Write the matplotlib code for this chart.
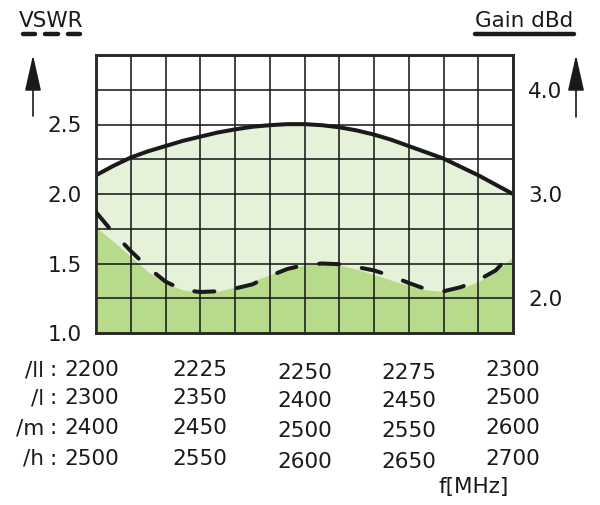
#!/usr/bin/env python3
"""VSWR / gain chart for a panel antenna, redrawn with matplotlib."""

import matplotlib
matplotlib.use("Agg")
import matplotlib.pyplot as plt
from matplotlib.lines import Line2D
import numpy as np

# grid columns (12 columns across the band), sampled every half column
cols = np.arange(0, 12.01, 0.5)

# gain in dBd (solid line, right axis)
gain = [3.18, 3.27, 3.35, 3.41, 3.46, 3.51, 3.55, 3.59, 3.62, 3.645, 3.66, 3.67,
        3.67, 3.66, 3.64, 3.61, 3.57, 3.52, 3.46, 3.40, 3.34, 3.26, 3.18, 3.09, 3.0]

# VSWR (dashed line, left axis)
vswr = [1.87, 1.72, 1.59, 1.47, 1.37, 1.31, 1.295, 1.30, 1.32, 1.35, 1.41, 1.46,
        1.49, 1.50, 1.495, 1.475, 1.45, 1.41, 1.36, 1.315, 1.30, 1.33, 1.38, 1.45, 1.58]

# upper edge of the dark green VSWR area
vswr_area = [1.76, 1.66, 1.55, 1.44, 1.36, 1.31, 1.295, 1.30, 1.33, 1.37, 1.42, 1.46,
             1.49, 1.50, 1.49, 1.46, 1.42, 1.38, 1.34, 1.31, 1.30, 1.32, 1.37, 1.44, 1.55]

vswr_ticks = [1.0, 1.5, 2.0, 2.5]
gain_ticks = [2.0, 3.0, 4.0]

# frequency labels per band
bands = ["/ll", "/l", "/m", "/h"]
freqs = [
    [2200, 2225, 2250, 2275, 2300],
    [2300, 2350, 2400, 2450, 2500],
    [2400, 2450, 2500, 2550, 2600],
    [2500, 2550, 2600, 2650, 2700],
]

W, H = 600, 505
INK = "#1a1a1a"
LIGHT = "#e5f1d8"
DARK = "#b8db8b"
FS = 15.5


def fy(y):
    """top-based pixel row -> figure fraction"""
    return 1 - y / H


def fx(x):
    return x / W


plt.rcParams["font.family"] = ["DejaVu Sans"]
fig = plt.figure(figsize=(W / 100, H / 100), dpi=100)
ax = fig.add_axes([fx(96), fy(333), fx(513) - fx(96), fy(55) - fy(333)])
ax2 = ax.twinx()

# gain axis sits behind, vswr axis (with grid) in front
ax.set_zorder(ax2.get_zorder() + 1)
ax.patch.set_visible(False)

ax.set_xlim(0, 12)
ax.set_ylim(1.0, 3.0)
ax2.set_ylim(2.0 - 1 / 3, 4.0 + 1 / 3)

ax2.fill_between(cols, gain, ax2.get_ylim()[0], color=LIGHT, lw=0, zorder=1)
ax2.plot(cols, gain, color=INK, lw=2.9, solid_capstyle="butt", zorder=3)

ax.fill_between(cols, vswr_area, 1.0, color=DARK, lw=0, zorder=1)
ax.plot(cols, vswr, color=INK, lw=2.9, dashes=(5.0, 5.7), dash_capstyle="round",
        zorder=3)

# grid
ax.set_xticks(np.arange(0, 13, 1))
ax.set_yticks(vswr_ticks)
ax.set_yticks(np.arange(1.0, 3.01, 0.25), minor=True)
ax.grid(True, which="both", color=INK, lw=1.15)
ax.tick_params(axis="x", length=0, labelbottom=False)
ax.tick_params(axis="y", which="both", length=0, pad=10, labelsize=FS, labelcolor=INK)
ax.set_yticklabels([f"{v:.1f}" for v in vswr_ticks])

ax2.set_yticks(gain_ticks)
ax2.set_yticklabels([f"{v:.1f}" for v in gain_ticks])
ax2.tick_params(axis="y", length=0, pad=11, labelsize=FS, labelcolor=INK)

for a in (ax, ax2):
    for s in a.spines.values():
        s.set_linewidth(1.9)
        s.set_color("#2a2a2a")

# axis titles with their underlines and arrows
fig.text(fx(51), fy(21), "VSWR", ha="center", va="center", fontsize=FS, color=INK)
for x0, x1 in [(23, 35), (45, 58), (68, 80)]:
    fig.add_artist(Line2D([fx(x0), fx(x1)], [fy(34), fy(34)], color=INK, lw=3.2,
                          solid_capstyle="round"))
fig.text(fx(524), fy(21), "Gain dBd", ha="center", va="center", fontsize=FS, color=INK)
fig.add_artist(Line2D([fx(475), fx(574)], [fy(34), fy(34)], color=INK, lw=3.2,
                      solid_capstyle="round"))

for xa, y0 in [(33, 116), (576, 117)]:
    ax.annotate("", xy=(fx(xa), fy(55)), xytext=(fx(xa), fy(y0)),
                xycoords="figure fraction", textcoords="figure fraction",
                arrowprops=dict(arrowstyle="-|>,head_length=0.8,head_width=0.18",
                                mutation_scale=28, lw=1.2, color=INK,
                                shrinkA=0, shrinkB=0))

# frequency table under the chart
label_x = [-0.12, 3.0, 6.0, 9.0, 12.0]
row_y = [370, 398, 428, 459]
for band, row, y in zip(bands, freqs, row_y):
    fig.text(fx(44), fy(y), band, ha="right", va="center", fontsize=FS, color=INK)
    fig.text(fx(53), fy(y), ":", ha="center", va="center", fontsize=FS, color=INK)
    for i, (xd, f) in enumerate(zip(label_x, row)):
        xp = ax.transData.transform((xd, 1.0))[0] / fig.dpi / fig.get_figwidth()
        dy = 3 if i in (2, 3) else 0
        fig.text(xp, fy(y + dy), str(f), ha="center", va="center", fontsize=FS, color=INK)

fig.text(fx(474), fy(487), "f[MHz]", ha="center", va="center", fontsize=FS, color=INK)

fig.savefig("out.png", dpi=100)
